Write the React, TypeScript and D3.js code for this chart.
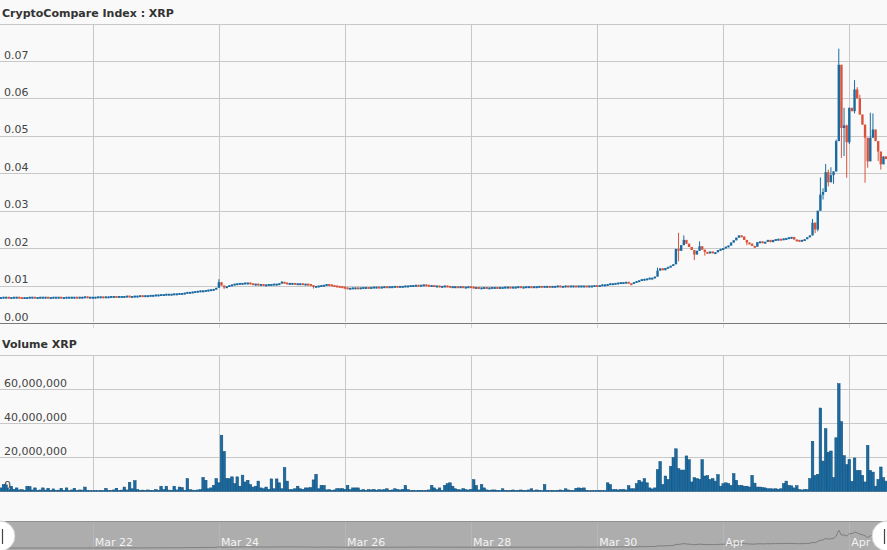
import React, { useEffect } from 'react';
import * as d3 from 'd3';

// ---------- DATA ----------
const FIRST_CANDLE_UTC = Date.UTC(2017, 2, 20, 13); // hourly candles
const FIRST_OPEN = 0.0069;

const closesMar20_21 = [0.0069,0.0070,0.0070,0.0069,0.0069,0.0070,0.0070,0.0069,0.0068,0.0069,0.0069,0.0070,0.0070,0.0069,0.0069,0.0070,0.0070,0.0070,0.0069,0.0069,0.0070,0.0070,0.0070,0.0069,0.0069,0.0070,0.0070,0.0070,0.0070,0.0069,0.0070,0.0070,0.0071,0.0070,0.0070];
const closesMar22_23 = [0.0070,0.0070,0.0071,0.0071,0.0070,0.0071,0.0071,0.0072,0.0072,0.0071,0.0072,0.0072,0.0072,0.0073,0.0072,0.0072,0.0073,0.0073,0.0074,0.0073,0.0074,0.0074,0.0075,0.0075,
  0.0076,0.0076,0.0077,0.0077,0.0078,0.0078,0.0078,0.0079,0.0079,0.0080,0.0080,0.0081,0.0083,0.0083,0.0084,0.0085,0.0086,0.0087,0.0087,0.0088,0.0089,0.0090,0.0091,0.0094];
const closesMar24 = [0.0109,0.0100,0.0095,0.0098,0.0101,0.0103,0.0105,0.0106,0.0107,0.0107,0.0108,0.0108,0.0106,0.0105,0.0105,0.0103,0.0104,0.0103,0.0103,0.0104,0.0104,0.0105,0.0105,0.0106];
const closesMar25 = [0.0110,0.0108,0.0107,0.0107,0.0107,0.0106,0.0106,0.0106,0.0105,0.0105,0.0104,0.0101,0.0098,0.0099,0.0100,0.0101,0.0102,0.0104,0.0103,0.0101,0.0100,0.0099,0.0098,0.0097];
const closesMar26 = [0.0095,0.0094,0.0094,0.0095,0.0095,0.0094,0.0095,0.0096,0.0096,0.0095,0.0096,0.0097,0.0097,0.0096,0.0097,0.0098,0.0097,0.0098,0.0098,0.0099,0.0098,0.0099,0.0099,0.0100];
const closesMar27 = [0.0100,0.0101,0.0101,0.0102,0.0101,0.0102,0.0103,0.0102,0.0101,0.0101,0.0100,0.0100,0.0099,0.0099,0.0100,0.0099,0.0098,0.0098,0.0098,0.0097,0.0098,0.0097,0.0097,0.0098];
const closesMar28 = [0.0097,0.0096,0.0096,0.0095,0.0095,0.0096,0.0095,0.0095,0.0096,0.0096,0.0095,0.0096,0.0096,0.0097,0.0097,0.0096,0.0097,0.0097,0.0098,0.0097,0.0097,0.0098,0.0098,0.0097];
const closesMar29 = [0.0098,0.0098,0.0099,0.0098,0.0099,0.0099,0.0098,0.0099,0.0099,0.0100,0.0099,0.0099,0.0100,0.0099,0.0100,0.0100,0.0099,0.0100,0.0100,0.0100,0.0099,0.0100,0.0100,0.0101];
const closesMar30_31 = [0.0100,0.0101,0.0103,0.0103,0.0104,0.0106,0.0106,0.0107,0.0108,0.0109,0.0109,0.0110,0.0106,0.0105,0.0109,0.0112,0.0114,0.0117,0.0118,0.0119,0.0121,0.0121,0.0124,0.0140,
  0.0146,0.0141,0.0147,0.0150,0.0153,0.0157,0.0198,0.0193,0.0208,0.0222,0.0212,0.0203,0.0195,0.0183,0.0193,0.0205,0.0196,0.0190,0.0186,0.0191,0.0188,0.0189,0.0195,0.0198];
const closesApr1_2 = [0.0200,0.0204,0.0207,0.0215,0.0221,0.0228,0.0234,0.0231,0.0222,0.0215,0.0212,0.0206,0.0204,0.0216,0.0218,0.0214,0.0217,0.0222,0.0216,0.0222,0.0224,0.0225,0.0224,0.0226,
  0.0227,0.0229,0.0230,0.0223,0.0222,0.0221,0.0222,0.0224,0.0229,0.0234,0.0268,0.0250,0.0300,0.0343,0.0350,0.0403,0.0376,0.0395,0.0405,0.0486,0.0690,0.0521,0.0528,0.0483];
const closesApr3 = [0.0575,0.0566,0.0624,0.0600,0.0557,0.0530,0.0495,0.0432,0.0495,0.0517,0.0486,0.0458,0.0424,0.0445,0.0438];

// wick extremes that go beyond the candle body: [candle index, value]
const wickHighs: [number, number][] = [
  [83,0.0117],[107,0.0112],[250,0.0148],[258,0.0241],[260,0.0234],[266,0.0218],
  [309,0.0278],[312,0.0389],[313,0.0360],[314,0.0425],[315,0.0410],[316,0.0416],[318,0.0490],
  [319,0.0733],[321,0.0575],[322,0.0530],[325,0.0649],[326,0.0630],[327,0.0610],[331,0.0562],[332,0.0560],
];
const wickLows: [number, number][] = [
  [85,0.0091],[119,0.0092],[131,0.0090],[258,0.0165],[264,0.0168],[268,0.0180],[284,0.0208],
  [310,0.0240],[311,0.0245],[313,0.0330],[315,0.0365],[317,0.0372],[320,0.0441],[321,0.0446],
  [322,0.0388],[323,0.0478],[325,0.0560],[329,0.0375],[330,0.0415],[334,0.0433],[335,0.0410],
];

// hourly volume, millions of XRP
const volumesMillions = [
  2.0,4.0,3.8,1.0,3.0,1.2,2.0,0.8,1.0,0.6,
  3.0,2.8,0.8,2.0,0.6,0.8,2.0,0.7,1.8,0.6,
  1.4,0.6,0.7,1.8,0.6,2.0,0.5,0.8,1.8,0.6,
  0.8,0.7,2.5,0.6,0.5,0.4,0.5,0.4,0.6,0.5,
  1.7,0.5,0.6,0.8,1.8,0.6,0.7,2.5,0.8,5.3,
  1.5,6.3,1.0,0.6,0.7,0.5,0.8,0.6,0.6,1.0,
  0.6,3.0,1.0,3.0,0.7,0.6,3.0,0.8,2.5,2.2,
  0.6,7.5,1.0,0.7,0.6,0.8,1.0,8.2,6.5,1.5,
  2.0,3.5,7.5,5.0,33.0,23.5,7.6,7.4,8.5,4.5,
  8.5,3.0,9.5,5.5,6.5,4.0,2.5,3.0,6.0,2.0,
  1.5,2.5,1.2,7.3,1.5,7.3,5.0,1.5,14.0,6.0,
  1.0,1.0,1.5,3.0,1.5,1.2,2.0,2.0,2.2,6.7,
  10.0,1.5,3.5,3.5,0.8,1.0,0.6,0.8,1.6,1.5,
  1.6,1.2,3.5,1.0,2.0,2.0,2.0,0.7,1.0,0.6,
  1.0,0.8,1.2,0.6,1.0,0.8,1.0,1.5,0.6,0.8,
  1.5,1.0,0.8,1.2,3.5,1.0,0.5,0.6,0.4,0.6,
  0.6,0.4,0.6,0.8,3.5,2.0,1.0,2.0,0.6,3.5,
  4.5,5.0,3.0,1.5,1.0,0.8,1.6,1.0,0.7,1.2,
  6.8,3.5,0.8,4.0,2.0,0.8,0.6,0.8,0.8,0.6,
  0.6,1.5,0.6,0.5,0.6,0.8,0.5,0.6,0.8,0.6,
  0.6,0.8,1.5,0.5,0.8,0.6,0.5,4.0,0.6,0.5,
  0.6,0.5,0.6,0.8,0.6,1.5,0.8,0.6,0.5,1.8,
  2.0,1.8,2.0,0.6,0.4,0.5,0.4,0.5,0.6,0.4,
  0.5,5.0,4.0,1.0,1.0,0.8,1.0,1.2,0.8,3.3,
  1.5,1.5,4.5,6.5,5.5,7.5,5.0,2.0,1.4,2.0,
  12.7,17.5,4.0,9.0,7.0,14.7,19.8,25.0,13.3,12.5,
  12.5,20.8,18.6,5.5,8.0,7.5,7.0,18.6,9.0,9.2,
  7.0,7.5,6.0,9.8,3.0,4.5,5.0,4.5,3.5,10.4,
  6.5,3.5,3.5,3.0,3.0,2.5,9.4,4.8,2.5,2.5,
  2.2,2.0,1.5,1.5,1.4,1.5,1.2,1.5,4.5,6.0,
  3.5,3.2,2.0,3.3,1.0,0.8,1.0,1.0,7.5,29.4,
  9.4,10.0,49.0,17.8,36.8,23.0,23.7,8.0,31.5,63.3,
  41.0,21.0,15.7,18.8,5.9,19.6,12.3,12.3,9.4,5.5,
  27.0,12.3,11.3,3.0,7.0,14.3,8.0,6.0,
];

const priceTicks = [0, 0.01, 0.02, 0.03, 0.04, 0.05, 0.06, 0.07, 0.08];
const volumeTicks = [0, 20e6, 40e6, 60e6, 80e6];
const dateTickDays = [22, 24, 26, 28, 30, 32, 34]; // days after Mar 0 (Apr 1 = 32)
const dateTickLabels = ['Mar 22', 'Mar 24', 'Mar 26', 'Mar 28', 'Mar 30', 'Apr', 'Apr 3'];

// ---------- CHART ----------
const W = 887;
const H = 550;
const FONT = '"DejaVu Sans", Verdana, sans-serif';
const BLUE = '#1c6ba0';
const RED = '#d8533a';
const GRID = '#c8c8c8';

const closes = [
  ...closesMar20_21, ...closesMar22_23, ...closesMar24, ...closesMar25, ...closesMar26,
  ...closesMar27, ...closesMar28, ...closesMar29, ...closesMar30_31, ...closesApr1_2, ...closesApr3,
];
const highMap = new Map(wickHighs);
const lowMap = new Map(wickLows);
const HOUR = 3600 * 1000;

const candles = closes.map((c, i) => {
  const o = i === 0 ? FIRST_OPEN : closes[i - 1];
  const h = Math.max(o, c, highMap.get(i) ?? 0);
  const l = Math.min(o, c, lowMap.get(i) ?? Infinity);
  return { t: new Date(FIRST_CANDLE_UTC + i * HOUR), o, h, l, c, v: volumesMillions[i] * 1e6 };
});

const dateTicks = dateTickDays.map((d) => new Date(Date.UTC(2017, 2, d)));

const x = d3.scaleUtc()
  .domain([new Date(Date.UTC(2017, 2, 22)), new Date(Date.UTC(2017, 3, 3))])
  .range([92.8, 849.3]);
const yP = d3.scaleLinear().domain([0, 0.08]).range([323, 23.6]);
const yV = d3.scaleLinear().domain([0, 80e6]).range([491.3, 355.3]);
const yN = d3.scaleLinear().domain([0, 0.0733]).range([550, 529]);

const fmtPrice = d3.format('.2f');
const fmtVol = d3.format(',');

export default function App() {
  useEffect(() => {
    document.body.style.margin = '0';
  }, []);

  const step = x(new Date(FIRST_CANDLE_UTC + HOUR)) - x(new Date(FIRST_CANDLE_UTC));
  const bodyW = 2.4;
  const navLine = d3.line<typeof candles[number]>().x((d) => x(d.t)).y((d) => yN(d.c))(candles) || '';

  return (
    <svg width={W} height={H} style={{ position: 'absolute', left: 0, top: 0, display: 'block' }}
      fontFamily={FONT}>
      <rect x={0} y={0} width={W} height={H} fill="#f9f9f9" />

      {/* ---- price panel ---- */}
      <text x={2} y={17} fontSize={11} fontWeight="bold" fill="#333">CryptoCompare Index : XRP</text>
      {priceTicks.map((t) => (
        <line key={'pg' + t} x1={0} x2={W} y1={Math.round(yP(t)) + 0.5} y2={Math.round(yP(t)) + 0.5}
          stroke={t === 0 ? '#7a7a7a' : GRID} strokeWidth={1} />
      ))}
      {dateTicks.map((d, k) => (
        <g key={'pv' + k}>
          <line x1={Math.round(x(d)) + 0.5} x2={Math.round(x(d)) + 0.5} y1={24} y2={322} stroke={GRID} />
          <line x1={Math.round(x(d)) + 0.5} x2={Math.round(x(d)) + 0.5} y1={324} y2={328} stroke="#d8d8d8" />
        </g>
      ))}
      {priceTicks.filter((t) => t < 0.08).map((t) => (
        <text key={'pl' + t} x={4} y={yP(t) - 2.5} fontSize={11} fill="#444">{fmtPrice(t)}</text>
      ))}
      {candles.map((d, i) => {
        const cx = x(d.t);
        const up = d.c >= d.o;
        const col = up ? BLUE : RED;
        const top = yP(Math.max(d.o, d.c));
        const bot = yP(Math.min(d.o, d.c));
        const bh = Math.max(1.8, bot - top);
        return (
          <g key={'c' + i}>
            <line x1={cx} x2={cx} y1={yP(d.h)} y2={Math.max(yP(d.l), top + bh)} stroke={col} strokeWidth={1} />
            <rect x={cx - bodyW / 2} y={top} width={bodyW} height={bh} fill={col} />
          </g>
        );
      })}

      {/* ---- volume panel ---- */}
      <text x={2} y={348} fontSize={11} fontWeight="bold" fill="#333">Volume XRP</text>
      {volumeTicks.map((t) => (
        <line key={'vg' + t} x1={0} x2={W} y1={Math.round(yV(t)) + 0.5} y2={Math.round(yV(t)) + 0.5} stroke={GRID} />
      ))}
      {dateTicks.map((d, k) => (
        <line key={'vv' + k} x1={Math.round(x(d)) + 0.5} x2={Math.round(x(d)) + 0.5} y1={355} y2={491} stroke={GRID} />
      ))}
      {volumeTicks.filter((t) => t < 80e6).map((t) => (
        <text key={'vl' + t} x={4} y={yV(t) - 2.5} fontSize={11} fill="#444">{fmtVol(t)}</text>
      ))}
      {candles.map((d, i) => {
        const cx = x(d.t);
        return (
          <rect key={'v' + i} x={cx - step / 2} y={yV(d.v)} width={step} height={yV(0) - yV(d.v)}
            fill={BLUE} stroke="#114d78" strokeWidth={0.5} />
        );
      })}

      {/* ---- navigator ---- */}
      <rect x={0} y={521} width={W} height={H - 521} fill="#adadad" />
      <line x1={0} x2={W} y1={521.5} y2={521.5} stroke="#8f8f8f" />
      {dateTicks.map((d, k) => (
        <line key={'nv' + k} x1={Math.round(x(d)) + 0.5} x2={Math.round(x(d)) + 0.5} y1={522} y2={H} stroke="#b6b6b6" />
      ))}
      <path d={navLine} fill="none" stroke="#7d7d7d" strokeWidth={1} />
      {dateTicks.map((d, k) => (
        <text key={'nl' + k} x={x(d) + 2} y={546} fontSize={11} fill="#f2f2f2">{dateTickLabels[k]}</text>
      ))}
      <circle cx={0} cy={536} r={15} fill="#ffffff" stroke="#d0d0d0" />
      <line x1={2.5} x2={2.5} y1={529} y2={544} stroke="#444" strokeWidth={1.2} />
      <circle cx={W} cy={536} r={15} fill="#ffffff" stroke="#d0d0d0" />
      <line x1={W - 2.5} x2={W - 2.5} y1={529} y2={544} stroke="#444" strokeWidth={1.2} />
    </svg>
  );
}
